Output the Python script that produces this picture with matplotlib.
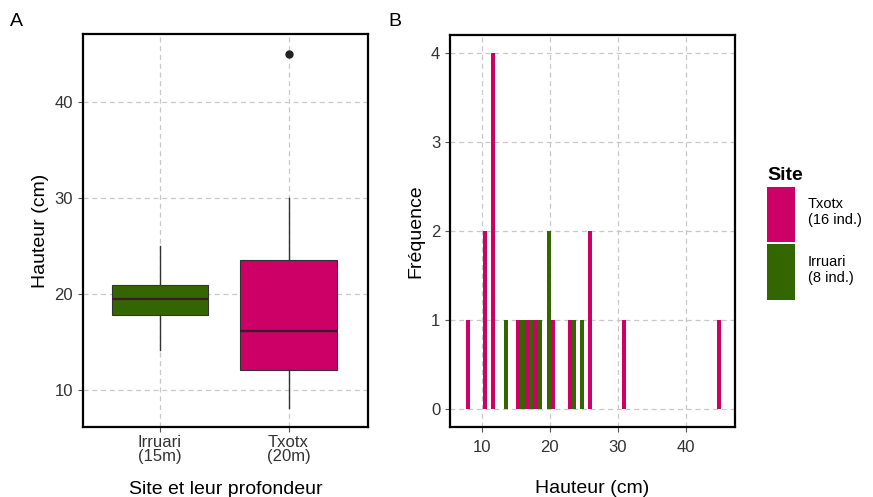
import matplotlib.pyplot as plt
from matplotlib.patches import Patch

plt.rcParams['font.family'] = ['Liberation Sans', 'DejaVu Sans']

pink = '#cc0066'
green = '#336600'

# panel A : box statistics
sites = ['Irruari\n(15m)', 'Txotx\n(20m)']
q1 = [17.8, 12.1]
med = [19.5, 16.1]
q3 = [20.9, 23.5]
whis_lo = [14.2, 8.1]
whis_hi = [25.0, 30.0]
fliers = [[], [45.0]]

# panel B : bar positions (cm) and counts
tx_pos = [8.0, 10.5, 11.7, 15.4, 16.7, 17.9, 20.5, 23.0, 25.9, 30.9, 44.8]
tx_cnt = [1, 2, 4, 1, 1, 1, 1, 1, 2, 1, 1]
ir_pos = [13.6, 16.0, 17.3, 18.5, 19.9, 23.6, 24.8]
ir_cnt = [1, 1, 1, 1, 2, 1, 1]
legend_labels = ['Txotx\n(16 ind.)', 'Irruari\n(8 ind.)']

W, H = 873, 497
fig = plt.figure(figsize=(W / 100, H / 100), dpi=100)


def style(ax, pad):
    ax.grid(True, color='#c8c8c8', linestyle=(0, (4, 3)), linewidth=0.9)
    ax.set_axisbelow(True)
    for s in ax.spines.values():
        s.set_linewidth(1.6)
        s.set_color('black')
    ax.tick_params(colors='#333333', labelsize=12, length=3.5, width=0.8,
                   color='#555555')
    ax.tick_params(axis='x', pad=pad)


# ---- A ----
axA = fig.add_axes([82.7 / W, 1 - 426.7 / H, 285.6 / W, 392.4 / H])
stats = []
for i in range(2):
    stats.append(dict(med=med[i], q1=q1[i], q3=q3[i], whislo=whis_lo[i],
                      whishi=whis_hi[i], fliers=fliers[i]))
bp = axA.bxp(stats, positions=[1, 2], widths=0.75, patch_artist=True,
             showcaps=False,
             medianprops=dict(color='#3d1a2a', linewidth=1.6),
             whiskerprops=dict(color='#333333', linewidth=1),
             flierprops=dict(marker='o', markerfacecolor='#222222',
                             markeredgecolor='#222222', markersize=5))
for patch, c in zip(bp['boxes'], [green, pink]):
    patch.set_facecolor(c)
    patch.set_edgecolor('#333333')
    patch.set_linewidth(0.8)
axA.set_xlim(0.4, 2.62)
axA.set_ylim(6.2, 47.0)
axA.set_yticks([10, 20, 30, 40])
axA.set_xticks([1, 2])
axA.set_xticklabels(sites, linespacing=0.95)
style(axA, 2.5)
axA.set_xlabel('Site et leur profondeur', fontsize=14, labelpad=12)
axA.set_ylabel('Hauteur (cm)', fontsize=14, labelpad=4)

# ---- B ----
axB = fig.add_axes([450 / W, 1 - 426.7 / H, 285 / W, 391.7 / H])
axB.bar(tx_pos, tx_cnt, width=0.6, color=pink, zorder=2)
axB.bar(ir_pos, ir_cnt, width=0.6, color=green, zorder=2)
axB.set_xlim(5.35, 47.2)
axB.set_ylim(-0.2, 4.2)
axB.set_xticks([10, 20, 30, 40])
axB.set_yticks([0, 1, 2, 3, 4])
style(axB, 6)
axB.set_xlabel('Hauteur (cm)', fontsize=14, labelpad=18)
axB.set_ylabel('Fréquence', fontsize=14, labelpad=5)

handles = [Patch(facecolor=pink, edgecolor='none'), Patch(facecolor=green, edgecolor='none')]
leg = fig.legend(handles, legend_labels, loc='upper left', bbox_to_anchor=(763 / W, 1 - 163 / H),
                 frameon=False, title='Site', fontsize=10.5, handlelength=1.92,
                 handleheight=5.5, labelspacing=0.15, handletextpad=0.85,
                 alignment='left', borderaxespad=0, borderpad=0.3)
leg.get_title().set_fontweight('bold')
leg.get_title().set_fontsize(14)

fig.text(10 / W, 1 - 21 / H, 'A', fontsize=14, va='center')
fig.text(388 / W, 1 - 21 / H, 'B', fontsize=14, va='center')

fig.savefig('out.png', dpi=100)
